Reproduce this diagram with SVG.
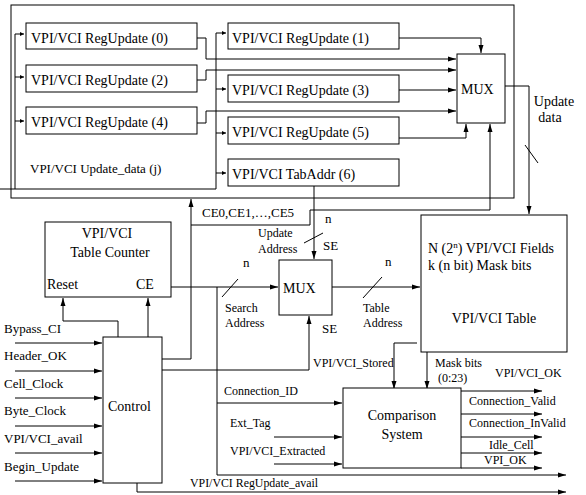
<svg xmlns="http://www.w3.org/2000/svg" width="586" height="495" viewBox="0 0 586 495" font-family="'Liberation Serif', 'Times New Roman', serif">
<style>
.b{fill:#fff;stroke:#000;stroke-width:1}
.f{fill:none;stroke:#000;stroke-width:1}
text{font-family:'Liberation Serif','Times New Roman',serif;fill:#000;font-weight:normal}
.t14{font-size:14px}
.t13{font-size:13px}
.t12{font-size:12px}
.m{text-anchor:middle}
</style>
<defs>
<marker id="a" markerUnits="userSpaceOnUse" markerWidth="9" markerHeight="6" refX="8" refY="3" orient="auto"><path d="M0,0.5 L8,3 L0,5.5 z" fill="#000"/></marker>
<marker id="s" markerUnits="userSpaceOnUse" markerWidth="5" markerHeight="5" refX="4" refY="2" orient="auto"><path d="M0,0 L4,2 L0,4 z" fill="#000"/></marker>
</defs>
<rect width="586" height="495" fill="#fff"/>

<g id="outer"><rect x="11" y="5" width="503" height="193" fill="none" stroke="#000"/></g>

<g id="connectors" class="f">
  <path d="M0,189 H216 V33 H226" marker-end="url(#s)"/>
  <path d="M216,89 H226" marker-end="url(#s)"/>
  <path d="M216,133 H226" marker-end="url(#s)"/>
  <path d="M216,173 H226" marker-end="url(#s)"/>
  <path d="M15,189 V34 H24" marker-end="url(#s)"/>
  <path d="M15,77 H24" marker-end="url(#s)"/>
  <path d="M15,121 H24" marker-end="url(#s)"/>
  <path d="M197,38 H206 V59 H456" marker-end="url(#a)"/>
  <path d="M197,80 H206 V70 H456" marker-end="url(#a)"/>
  <path d="M197,123 H206 V111 H456" marker-end="url(#a)"/>
  <path d="M399,90 H456" marker-end="url(#a)"/>
  <path d="M399,38 H481 V53" marker-end="url(#a)"/>
  <path d="M399,138 H466 V124" marker-end="url(#a)"/>
  <path d="M505,86 H529 V214" marker-end="url(#a)"/>
  <path d="M525,145 L538,163"/>
  <path d="M314,186 V259" marker-end="url(#a)"/>
  <path d="M304,243 L323,233"/>
  <path d="M162,359 H191 V199" marker-end="url(#a)"/>
  <path d="M191,225 H310 V210 H490 V124" marker-end="url(#a)"/>
  <path d="M171,287 H278" marker-end="url(#a)"/>
  <path d="M222,297 L238,279"/>
  <path d="M217,287 V475 H566" marker-end="url(#a)"/>
  <path d="M217,403 H342" marker-end="url(#a)"/>
  <path d="M118,337 V321 H63 V298" marker-end="url(#a)"/>
  <path d="M148,337 V298" marker-end="url(#a)"/>
  <path d="M162,370 H309 V316" marker-end="url(#a)"/>
  <path d="M332,287 H420" marker-end="url(#a)"/>
  <path d="M363,298 L382,277"/>
  <path d="M417,343 H394 V389" marker-end="url(#a)"/>
  <path d="M427,352 V389" marker-end="url(#a)"/>
  <path d="M274,437 H342" marker-end="url(#a)"/>
  <path d="M274,464 H342" marker-end="url(#a)"/>
  <path d="M461,391 H542" marker-end="url(#a)"/>
  <path d="M461,414 H542" marker-end="url(#a)"/>
  <path d="M461,437 H542" marker-end="url(#a)"/>
  <path d="M461,453 H542" marker-end="url(#a)"/>
  <path d="M461,468 H542" marker-end="url(#a)"/>
  <path d="M137,483 V492 H566" marker-end="url(#a)"/>
  <path d="M15,343 H102" marker-end="url(#a)"/>
  <path d="M15,371 H102" marker-end="url(#a)"/>
  <path d="M15,398 H102" marker-end="url(#a)"/>
  <path d="M15,426 H102" marker-end="url(#a)"/>
  <path d="M15,453 H102" marker-end="url(#a)"/>
  <path d="M15,481 H102" marker-end="url(#a)"/>
</g>

<g id="reg0"><rect class="b" x="26" y="23" width="171" height="26"/><text class="t14" x="31" y="43">VPI/VCI RegUpdate (0)</text></g>
<g id="reg2"><rect class="b" x="26" y="65" width="171" height="27"/><text class="t14" x="31" y="85">VPI/VCI RegUpdate (2)</text></g>
<g id="reg4"><rect class="b" x="26" y="107" width="171" height="27"/><text class="t14" x="31" y="127">VPI/VCI RegUpdate (4)</text></g>
<g id="reg1"><rect class="b" x="228" y="23" width="171" height="26"/><text class="t14" x="232" y="43">VPI/VCI RegUpdate (1)</text></g>
<g id="reg3"><rect class="b" x="228" y="75" width="171" height="27"/><text class="t14" x="232" y="95">VPI/VCI RegUpdate (3)</text></g>
<g id="reg5"><rect class="b" x="228" y="117" width="171" height="27"/><text class="t14" x="232" y="137">VPI/VCI RegUpdate (5)</text></g>
<g id="tabaddr"><rect class="b" x="228" y="159" width="171" height="27"/><text class="t14" x="232" y="179">VPI/VCI TabAddr (6)</text></g>
<g id="updatedata-label"><text class="t13" x="30" y="173">VPI/VCI Update_data (j)</text></g>

<g id="mux1"><rect class="b" x="457" y="54" width="48" height="69"/><text class="t14" x="461" y="94">MUX</text></g>
<g id="updatedata"><text class="t14 m" x="554" y="106">Update</text><text class="t14 m" x="550" y="122">data</text></g>

<g id="counter"><rect class="b" x="45" y="222" width="126" height="75"/>
<text class="t14 m" x="107" y="238">VPI/VCI</text><text class="t14 m" x="110" y="257">Table Counter</text>
<text class="t14" x="47" y="289">Reset</text><text class="t14" x="136" y="289">CE</text></g>

<g id="mux2"><rect class="b" x="279" y="260" width="53" height="55"/><text class="t14" x="283" y="293">MUX</text></g>

<g id="table"><rect class="b" x="421" y="215" width="146" height="137"/>
<text class="t14" x="428" y="253">N (2<tspan font-size="9" dy="-5">n</tspan><tspan dy="5">) VPI/VCI Fields</tspan></text>
<text class="t14" x="428" y="270">k (n bit) Mask bits</text>
<text class="t14 m" x="494" y="323">VPI/VCI Table</text></g>

<g id="control"><rect class="b" x="103" y="337" width="59" height="146"/><text class="t14" x="108" y="411">Control</text></g>

<g id="comparison"><rect class="b" x="343" y="388" width="118" height="80"/>
<text class="t14 m" x="402" y="420">Comparison</text><text class="t14 m" x="402" y="439">System</text></g>

<g id="labels">
<text class="t13" x="202" y="217">CE0,CE1,…,CE5</text>
<text class="t12" x="258" y="237">Update</text>
<text class="t12" x="258" y="253">Address</text>
<text class="t13" x="325" y="223">n</text>
<text class="t13" x="323" y="250">SE</text>
<text class="t13" x="243" y="267">n</text>
<text class="t12" x="225" y="312">Search</text>
<text class="t12" x="225" y="327">Address</text>
<text class="t13" x="385" y="266">n</text>
<text class="t12" x="363" y="312">Table</text>
<text class="t12" x="363" y="327">Address</text>
<text class="t13" x="322" y="333">SE</text>
<text class="t12" x="313" y="367">VPI/VCI_Stored</text>
<text class="t12" x="435" y="367">Mask bits</text>
<text class="t12" x="438" y="382">(0:23)</text>
<text class="t12" x="224" y="395">Connection_ID</text>
<text class="t12" x="230" y="427">Ext_Tag</text>
<text class="t12" x="230" y="455">VPI/VCI_Extracted</text>
<text class="t12" x="190" y="487" textLength="128" lengthAdjust="spacingAndGlyphs">VPI/VCI RegUpdate_avail</text>
<text class="t12" x="495" y="377">VPI/VCI_OK</text>
<text class="t12" x="469" y="405">Connection_Valid</text>
<text class="t12" x="469" y="427">Connection_InValid</text>
<text class="t12" x="489" y="449">Idle_Cell</text>
<text class="t12" x="484" y="464">VPI_OK</text>
<text class="t13" x="4" y="333">Bypass_CI</text>
<text class="t13" x="4" y="360">Header_OK</text>
<text class="t13" x="4" y="388">Cell_Clock</text>
<text class="t13" x="4" y="415">Byte_Clock</text>
<text class="t13" x="4" y="443">VPI/VCI_avail</text>
<text class="t13" x="4" y="471">Begin_Update</text>
</g>
</svg>
